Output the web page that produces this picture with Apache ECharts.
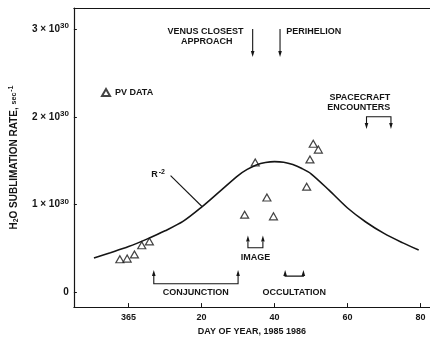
<!DOCTYPE html>
<html><head><meta charset="utf-8">
<script src="https://cdn.jsdelivr.net/npm/echarts@6/dist/echarts.min.js"></script>
<style>html,body{margin:0;padding:0;background:#fff}#c{width:430px;height:341px}</style>
</head><body><div id="c"></div>
<script>
// ---- data ----
const xTicks = [0, 20, 40, 60, 80];
const xTickLabels = ['365', '20', '40', '60', '80'];
const yTicks = [0, 1, 2, 3];
const yTickLabels = ['0', '1', '2', '3'];

// R^-2 model curve (day relative to 1 Jan 1986, 0 = day 365 of 1985), units of 1e30 /sec
const curveDays = [-9.5, -5, 0, 5, 10, 15, 20, 25, 30, 32.5, 35, 37.5, 40, 42.5, 45, 47.5, 50, 55, 60, 65, 70, 75, 79.5];
const curveRate = [0.39, 0.45, 0.52, 0.605, 0.70, 0.81, 0.97, 1.15, 1.33, 1.40, 1.45, 1.478, 1.489, 1.482, 1.455, 1.41, 1.35, 1.16, 0.96, 0.80, 0.67, 0.565, 0.48];

// PV data points
const pvDays = [-2.4, -0.4, 1.6, 3.6, 5.7, 31.8, 34.7, 37.9, 39.7, 48.8, 49.7, 50.6, 52.0];
const pvRate = [0.375, 0.383, 0.431, 0.535, 0.579, 0.884, 1.478, 1.080, 0.865, 1.203, 1.514, 1.693, 1.626];

// event arrows: x1, x2 (day), base level and tip level (1e30 /sec)
const arrowX1 = [34.0, 41.5, 65.2, 32.7, 6.9, 42.9];
const arrowX2 = [34.0, 41.5, 71.9, 36.8, 30.0, 47.9];
const arrowBase = [3.0, 3.0, 2.0, 0.506, 0.097, 0.183];
const arrowTip = [2.68, 2.68, 1.86, 0.646, 0.253, 0.253];

// event labels
const labelTexts = ['VENUS CLOSEST', 'APPROACH', 'PERIHELION', 'SPACECRAFT', 'ENCOUNTERS', 'IMAGE', 'CONJUNCTION', 'OCCULTATION'];
const labelX = [21.1, 21.4, 43.2, 63.4, 63.1, 34.8, 18.4, 45.4];
const labelY = [2.97, 2.86, 2.97, 2.224, 2.109, 0.39, 0.0, 0.0];
const labelAlign = ['center', 'center', 'left', 'center', 'center', 'center', 'center', 'center'];

// R^-2 label and pointer
const rLabel = [6.2, 1.344];
const rPointer = [[11.5, 1.33], [20.1, 0.977]];

// ---- chart ----
const FONT = '"Liberation Sans", Arial, sans-serif';
const INK = '#151515';
const chart = echarts.init(document.getElementById('c'), null, {renderer: 'canvas'});

function renderArrows(params, api) {
  const x1 = api.value(0), x2 = api.value(1), yb = api.value(2), yt = api.value(3);
  const b1 = api.coord([x1, yb]), b2 = api.coord([x2, yb]);
  const t1 = api.coord([x1, yt]), t2 = api.coord([x2, yt]);
  const dir = t1[1] > b1[1] ? 1 : -1;
  const L = 6, W = 1.8;
  const children = [];
  const pts = (x1 === x2)
    ? [b1, [t1[0], t1[1] - dir * L]]
    : [[t1[0], t1[1] - dir * L], b1, b2, [t2[0], t2[1] - dir * L]];
  children.push({type: 'polyline', shape: {points: pts}, style: {stroke: INK, lineWidth: 1.1, fill: null}});
  const heads = (x1 === x2) ? [t1] : [t1, t2];
  heads.forEach(t => children.push({
    type: 'polygon',
    shape: {points: [[t[0], t[1]], [t[0] - W, t[1] - dir * L], [t[0] + W, t[1] - dir * L]]},
    style: {fill: INK}
  }));
  return {type: 'group', children};
}

function renderLabels(params, api) {
  const i = params.dataIndex;
  const p = api.coord([api.value(0), api.value(1)]);
  return {
    type: 'text', x: p[0], y: p[1],
    style: {text: labelTexts[i], fill: INK, fontSize: 9, fontWeight: 'bold', fontFamily: FONT,
            align: labelAlign[i], verticalAlign: 'middle'}
  };
}

function renderR(params, api) {
  const p = api.coord(rLabel);
  const a = api.coord(rPointer[0]), b = api.coord(rPointer[1]);
  return {type: 'group', children: [
    {type: 'text', x: p[0], y: p[1], style: {
      text: '{b|R}{s|-2}', align: 'left', verticalAlign: 'middle',
      rich: {
        b: {fontSize: 9, fontWeight: 'bold', fontFamily: FONT, fill: INK, lineHeight: 12},
        s: {fontSize: 7, fontWeight: 'bold', fontFamily: FONT, fill: INK, padding: [0, 0, 5, 1], lineHeight: 12}
      }}},
    {type: 'line', shape: {x1: a[0], y1: a[1], x2: b[0], y2: b[1]}, style: {stroke: INK, lineWidth: 1.1}}
  ]};
}

const option = {
  backgroundColor: '#fff',
  animation: false,
  grid: {left: 73, right: 0, top: 8, bottom: 27},
  legend: {
    data: ['PV DATA'], left: 96, top: 83, itemWidth: 8, itemHeight: 7, itemGap: 4,
    textStyle: {fontSize: 9, fontWeight: 'bold', fontFamily: FONT, color: INK}
  },
  xAxis: [{
    type: 'value', min: -15, max: 82.6,
    name: 'DAY OF YEAR, 1985 1986', nameLocation: 'middle', nameGap: 17,
    nameTextStyle: {fontSize: 9, fontWeight: 'bold', fontFamily: FONT, color: INK},
    axisLine: {show: true, onZero: false, lineStyle: {color: INK, width: 1.2}},
    axisTick: {show: true, inside: true, length: 4, customValues: xTicks, lineStyle: {color: INK}},
    axisLabel: {customValues: xTicks, margin: 6, fontSize: 9, fontWeight: 'bold', fontFamily: FONT, color: INK,
                formatter: v => xTickLabels[xTicks.indexOf(v)]},
    splitLine: {show: false}
  }, {
    type: 'value', position: 'top', min: -15, max: 82.6,
    axisLine: {show: true, onZero: false, lineStyle: {color: INK, width: 1.2}},
    axisTick: {show: false}, axisLabel: {show: false}, splitLine: {show: false}
  }],
  yAxis: {
    type: 'value', min: -0.17, max: 3.24,
    name: '{a|H}{sub|2}{a|O SUBLIMATION RATE, }{sm|sec}{sup|-1}',
    nameLocation: 'middle', nameGap: 51, nameRotate: 90,
    nameTextStyle: {
      rich: {
        a: {fontSize: 10, fontWeight: 'bold', fontFamily: FONT, color: INK, lineHeight: 14},
        sub: {fontSize: 7, fontWeight: 'bold', fontFamily: FONT, color: INK, padding: [4, 0, 0, 0], lineHeight: 14},
        sm: {fontSize: 7, fontWeight: 'bold', fontFamily: FONT, color: INK, lineHeight: 14},
        sup: {fontSize: 7, fontWeight: 'bold', fontFamily: FONT, color: INK, padding: [0, 0, 6, 1], lineHeight: 14}
      }
    },
    axisLine: {show: true, onZero: false, lineStyle: {color: INK, width: 1.2}},
    axisTick: {show: true, inside: true, length: 3, customValues: yTicks, lineStyle: {color: INK}},
    axisLabel: {
      customValues: yTicks, margin: 5,
      formatter: v => {
        const t = yTickLabels[yTicks.indexOf(v)];
        return v === 0 ? '{b|0}' : '{b|' + t + ' \u00d7 10}{s|30}';
      },
      rich: {
        b: {fontSize: 10, fontWeight: 'bold', fontFamily: FONT, color: INK, lineHeight: 14},
        s: {fontSize: 8, fontWeight: 'bold', fontFamily: FONT, color: INK, padding: [0, 0, 6, 0], lineHeight: 14}
      }
    },
    splitLine: {show: false}
  },
  series: [
    {
      name: 'R^-2', type: 'line', smooth: 0.3, symbol: 'none',
      data: curveDays.map((d, i) => [d, curveRate[i]]),
      lineStyle: {color: INK, width: 1.6}
    },
    {
      name: 'PV DATA', type: 'scatter', symbol: 'triangle', symbolSize: [8, 7],
      data: pvDays.map((d, i) => [d, pvRate[i]]),
      itemStyle: {color: '#fff', borderColor: INK, borderWidth: 1.2}
    },
    {
      type: 'custom', renderItem: renderArrows, silent: true,
      data: arrowX1.map((x, i) => [x, arrowX2[i], arrowBase[i], arrowTip[i]]),
      encode: {x: [0, 1], y: [2, 3]}
    },
    {
      type: 'custom', renderItem: renderLabels, silent: true,
      data: labelX.map((x, i) => [x, labelY[i]]),
      encode: {x: 0, y: 1}
    },
    {
      type: 'custom', renderItem: renderR, silent: true,
      data: [[rLabel[0], rLabel[1]]],
      encode: {x: 0, y: 1}
    }
  ]
};
chart.setOption(option);
</script>
</body></html>
